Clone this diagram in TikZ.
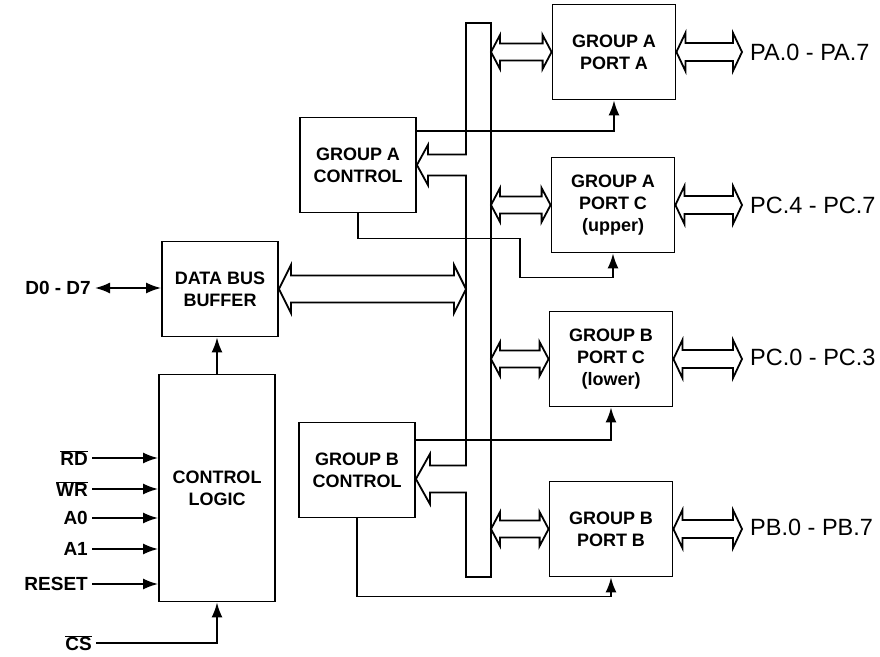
\documentclass[tikz,border=0pt]{standalone}
\usepackage{fontspec}
\setmainfont{Liberation Sans}
\usetikzlibrary{calc,arrows.meta}
\tikzset{sol/.tip={Latex[length=15pt,width=11pt]},
box/.style={draw,line width=1.8pt,minimum width=116pt,minimum height=95pt,inner sep=0pt,align=center,font=\bfseries\fontsize{18}{22}\selectfont},
port/.style={box,minimum width=123pt},
sig/.style={draw,line width=1.8pt,-sol},
pin/.style={anchor=east,inner sep=4pt,font=\bfseries\fontsize{19}{22}\selectfont},
pout/.style={anchor=west,inner sep=0pt,font=\fontsize{23.5}{26}\selectfont},
fatline/.style={draw,line width=1.8pt,fill=white,line join=miter}}
% hollow double arrow: from, to, half shaft, half head, head length
\newcommand{\fatlink}[5]{%
\draw[fatline] let \p1=#1, \p2=#2 in
 (\x1,\y1) -- (\x1+#5pt,\y1+#4pt) -- (\x1+#5pt,\y1+#3pt) -- (\x2-#5pt,\y1+#3pt) -- (\x2-#5pt,\y1+#4pt) -- (\x2,\y1)
 -- (\x2-#5pt,\y1-#4pt) -- (\x2-#5pt,\y1-#3pt) -- (\x1+#5pt,\y1-#3pt) -- (\x1+#5pt,\y1-#4pt) -- cycle;}
% hollow arrow leaving the bus: bus point, tip, half shaft, half head, head length
\newcommand{\fatin}[5]{%
\fill[white] let \p1=#1, \p2=#2 in
 (\x1+1.2pt,\y1+#3pt) -- (\x2+#5pt,\y1+#3pt) -- (\x2+#5pt,\y1+#4pt) -- (\x2,\y1) -- (\x2+#5pt,\y1-#4pt) -- (\x2+#5pt,\y1-#3pt) -- (\x1+1.2pt,\y1-#3pt) -- cycle;
\draw[line width=1.8pt,line join=miter] let \p1=#1, \p2=#2 in
 (\x1+0.9pt,\y1+#3pt) -- (\x2+#5pt,\y1+#3pt) -- (\x2+#5pt,\y1+#4pt) -- (\x2,\y1) -- (\x2+#5pt,\y1-#4pt) -- (\x2+#5pt,\y1-#3pt) -- (\x1+0.9pt,\y1-#3pt);}

\begin{document}
\begin{tikzpicture}[x=1pt,y=-1pt]
\useasboundingbox (0,0) rectangle (880,656);
% ports
\node[port] (pa) at (614,52) {GROUP A\\PORT A};
\node[port] (pcu) at (613,205) {GROUP A\\PORT C\\(upper)};
\node[port] (pcl) at (611,359) {GROUP B\\PORT C\\(lower)};
\node[port] (pb) at (611,529) {GROUP B\\PORT B};
% control side
\node[box] (gac) at (358,165) {GROUP A\\CONTROL};
\node[box] (gbc) at (357,470) {GROUP B\\CONTROL};
\node[box] (dbb) at (220,289) {DATA BUS\\BUFFER};
\node[box,minimum height=227pt] (cl) at (217,488) {CONTROL\\LOGIC};
\node[draw,line width=1.8pt,minimum width=25pt,minimum height=554pt,inner sep=0pt,outer sep=0pt] (ibus) at (478.5,300) {};
% outside pins
\node[pin] (dd) at (95,288) {D0 - D7};
\node[pin] (cs) at (96,643) {$\overline{\mbox{CS}}$};
\foreach \nm/\txt/\yy in {rd/$\overline{\mbox{RD}}$/458,wr/$\overline{\mbox{WR}}$/489,a0/A0/518,a1/A1/549,rst/RESET/584}{
  \node[pin] (\nm) at (92,\yy) {\txt};
  \draw[sig] (\nm.east) -- (cl.west |- \nm.east);}
\node[pout] (paout) at (750,52) {PA.0 - PA.7};
\node[pout] (pcuout) at (750,205) {PC.4 - PC.7};
\node[pout] (pclout) at (750,357) {PC.0 - PC.3};
\node[pout] (pbout) at (750,527) {PB.0 - PB.7};
% signals
\draw[line width=1.8pt,sol-sol] (dd.east) -- (dbb.west |- dd.east);
\draw[sig] (cs.east) -| (cl.south);
\draw[sig] (cl.north) -- (cl.north |- dbb.south);
\draw[sig] ($(gac.north east)+(0,14)$) -| (pa.south);
\draw[sig] (gac.south) |- ++(162,25) |- ($(pcu.south)+(0,24)$) -- (pcu.south);
\draw[sig] ($(gbc.north east)+(0,18)$) -| (pcl.south);
\draw[sig] (gbc.south) |- ($(pb.south)+(0,19)$) -- (pb.south);
% buses
\fatlink{(dbb.east)}{(ibus.west |- dbb.east)}{13.5}{24}{12}
\fatin{(ibus.west |- gac.east)}{(gac.east)}{10.5}{20}{11}
\fatin{($(ibus.west |- gbc.east)+(0,9)$)}{($(gbc.east)+(0,9)$)}{13.5}{25}{14}
\foreach \prt in {pa,pcu,pcl,pb}{
  \fatlink{(ibus.east |- \prt.west)}{(\prt.west)}{8.5}{17}{9}
  \fatlink{(\prt.east)}{($(\prt out.west)+(-8,0)$)}{9}{19}{9}}
\end{tikzpicture}
\end{document}
